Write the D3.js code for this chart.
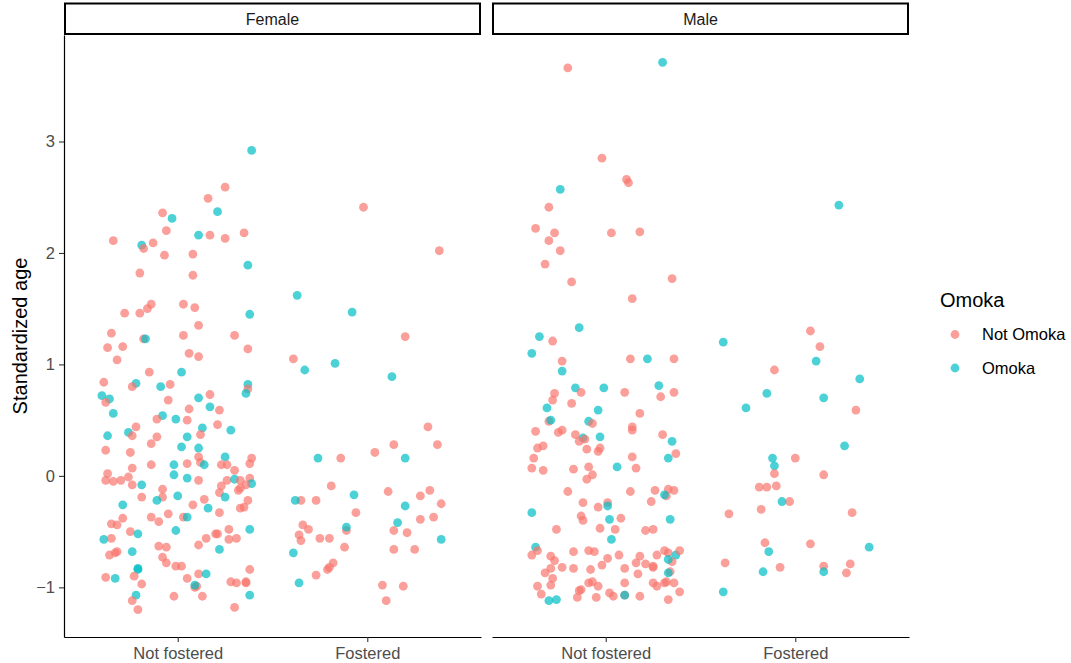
<!DOCTYPE html>
<html>
<head>
<meta charset="utf-8">
<script src="https://cdn.jsdelivr.net/npm/d3@7"></script>
<style>
  html, body { margin: 0; padding: 0; background: #fff; }
  svg { display: block; font-family: "Liberation Sans", Arial, Helvetica, sans-serif; }
</style>
</head>
<body>
<svg id="chart" width="1071" height="663"></svg>
<script>
// Categories, facets and legend entries
const sexes = ["Female", "Male"];
const fosterLevels = ["Not fostered", "Fostered"];
const omokaLevels = ["Not Omoka", "Omoka"];
const colours = ["#F8766D", "#00BFC4"];
const yTicks = [-1, 0, 1, 2, 3];

// Each point: [horizontal jitter (category units), standardized age, omoka (0 = Not Omoka, 1 = Omoka)]
const femaleNotFostered = [
  [0.39,2.92,1],[0.25,2.59,0],[0.16,2.49,0],[0.21,2.37,1],[-0.08,2.36,0],[-0.03,2.31,1],[-0.06,2.20,0],[-0.34,2.11,0],
  [-0.19,2.07,1],[-0.18,2.04,0],[-0.13,2.09,0],[0.11,2.16,1],[0.17,2.16,0],[0.25,2.13,0],[0.35,2.18,0],[-0.07,1.98,0],
  [0.08,1.99,0],[0.37,1.89,1],[-0.20,1.82,0],[0.08,1.80,0],[-0.14,1.54,0],[-0.16,1.50,0],[-0.20,1.46,0],[-0.28,1.46,0],
  [0.03,1.54,0],[0.09,1.51,0],[0.38,1.45,1],[0.11,1.35,0],[-0.35,1.28,0],[0.03,1.26,0],[0.30,1.26,0],[-0.18,1.23,0],
  [-0.17,1.23,1],[-0.37,1.15,0],[-0.29,1.16,0],[0.37,1.14,0],[-0.32,1.04,0],[0.06,1.10,0],[0.11,1.07,0],[-0.15,0.93,0],
  [0.02,0.93,1],[-0.39,0.84,0],[-0.22,0.83,1],[-0.24,0.80,0],[-0.09,0.80,1],[-0.04,0.82,0],[0.37,0.82,1],[0.37,0.78,0],
  [0.36,0.74,1],[-0.40,0.72,1],[-0.36,0.69,1],[-0.38,0.66,0],[-0.05,0.68,0],[0.11,0.70,1],[0.17,0.73,0],[0.06,0.60,0],
  [0.17,0.62,1],[0.22,0.59,0],[-0.34,0.56,1],[-0.08,0.54,1],[-0.11,0.51,0],[-0.01,0.51,1],[0.05,0.50,0],[0.21,0.46,0],
  [0.13,0.43,1],[0.28,0.41,1],[-0.22,0.44,0],[-0.26,0.39,1],[-0.24,0.36,0],[-0.37,0.36,1],[0.12,0.37,0],[-0.11,0.35,0],
  [0.05,0.35,1],[-0.14,0.29,0],[0.02,0.26,1],[0.11,0.25,1],[-0.38,0.23,0],[-0.25,0.21,0],[0.25,0.17,1],[0.11,0.17,0],
  [0.39,0.16,0],[0.38,0.11,0],[0.12,0.12,0],[0.14,0.10,1],[0.05,0.11,0],[0.23,0.10,0],[0.26,0.10,0],[-0.02,0.10,1],
  [-0.14,0.10,0],[-0.24,0.07,0],[0.30,0.05,0],[-0.37,0.02,0],[-0.26,-0.01,0],[-0.02,0.01,1],[0.05,-0.02,1],[0.11,-0.04,0],
  [0.26,-0.04,0],[0.30,-0.03,1],[0.33,-0.04,0],[0.38,-0.02,0],[0.39,-0.07,1],[0.36,-0.08,0],[-0.38,-0.04,0],[-0.34,-0.05,0],
  [-0.30,-0.04,0],[-0.24,-0.08,0],[-0.19,-0.08,1],[0.23,-0.09,0],[-0.08,-0.12,0],[0.22,-0.15,0],[0.32,-0.13,0],[0.33,-0.11,0],
  [0.25,-0.19,1],[-0.19,-0.19,0],[-0.08,-0.19,0],[-0.11,-0.22,1],[0.00,-0.18,1],[0.14,-0.21,0],[0.37,-0.22,0],[0.35,-0.28,0],
  [0.33,-0.29,0],[-0.29,-0.26,1],[0.08,-0.26,0],[0.16,-0.29,1],[0.22,-0.33,0],[-0.05,-0.34,0],[-0.14,-0.37,0],[0.03,-0.37,0],
  [0.05,-0.37,1],[-0.10,-0.41,0],[-0.29,-0.38,0],[-0.35,-0.43,0],[-0.32,-0.44,0],[0.38,-0.48,1],[-0.01,-0.49,1],[0.27,-0.48,0],
  [-0.25,-0.50,0],[-0.21,-0.52,1],[0.20,-0.52,0],[0.21,-0.52,0],[0.15,-0.56,0],[0.27,-0.57,0],[0.31,-0.56,0],[-0.39,-0.57,1],
  [-0.35,-0.56,0],[0.11,-0.62,0],[-0.10,-0.63,0],[-0.06,-0.64,0],[0.22,-0.66,1],[-0.24,-0.68,1],[-0.32,-0.68,0],[-0.33,-0.69,0],
  [-0.36,-0.71,0],[-0.08,-0.73,0],[-0.06,-0.78,0],[-0.01,-0.81,0],[0.02,-0.81,0],[-0.21,-0.83,1],[-0.21,-0.84,1],[0.38,-0.84,0],
  [0.11,-0.88,0],[0.15,-0.88,1],[-0.38,-0.91,0],[-0.33,-0.92,1],[-0.23,-0.90,0],[0.05,-0.92,0],[-0.19,-0.97,0],[0.28,-0.95,0],
  [0.31,-0.96,0],[0.36,-0.95,0],[0.36,-0.96,0],[0.09,-1.00,0],[0.10,-0.99,0],[0.09,-0.98,1],[-0.22,-1.07,1],[-0.02,-1.08,0],
  [0.13,-1.08,0],[0.38,-1.07,1],[-0.24,-1.12,0],[-0.21,-1.20,0],[0.30,-1.18,0]
];

const femaleFostered = [
  [-0.02,2.41,0],[0.38,2.02,0],[-0.37,1.62,1],[-0.08,1.47,1],[0.20,1.25,0],[-0.39,1.05,0],[-0.33,0.95,1],[-0.17,1.01,1],
  [0.13,0.89,1],[0.32,0.44,0],[0.14,0.28,0],[0.37,0.28,0],[0.04,0.21,0],[-0.26,0.16,1],[-0.14,0.16,0],[0.20,0.16,1],
  [-0.19,-0.09,0],[0.11,-0.14,0],[0.33,-0.13,0],[0.28,-0.18,0],[-0.07,-0.17,1],[-0.35,-0.22,0],[-0.38,-0.22,1],[-0.27,-0.22,0],
  [0.39,-0.25,0],[0.20,-0.27,1],[-0.06,-0.33,0],[0.28,-0.39,0],[0.35,-0.37,0],[0.16,-0.42,1],[-0.34,-0.44,0],[-0.31,-0.48,0],
  [-0.11,-0.49,0],[-0.11,-0.46,1],[0.14,-0.49,0],[0.21,-0.51,0],[-0.36,-0.53,0],[-0.35,-0.58,0],[-0.25,-0.56,0],[-0.20,-0.56,0],
  [0.39,-0.57,1],[-0.12,-0.64,0],[-0.39,-0.69,1],[0.14,-0.66,0],[0.25,-0.66,0],[-0.18,-0.78,0],[-0.20,-0.82,0],[-0.21,-0.84,0],
  [-0.27,-0.89,0],[-0.36,-0.96,1],[0.08,-0.98,0],[0.19,-0.99,0],[0.10,-1.12,0]
];

const maleNotFostered = [
  [-0.20,3.66,0],[0.30,3.71,1],[-0.02,2.85,0],[0.11,2.66,0],[0.12,2.63,0],[-0.24,2.57,1],[-0.30,2.41,0],[-0.37,2.22,0],
  [-0.27,2.18,0],[-0.30,2.11,0],[0.03,2.18,0],[0.18,2.19,0],[-0.24,2.02,0],[-0.32,1.90,0],[-0.18,1.74,0],[0.35,1.77,0],
  [0.14,1.59,0],[-0.14,1.33,1],[-0.35,1.25,1],[-0.28,1.21,0],[-0.39,1.10,1],[-0.23,1.03,0],[0.13,1.05,0],[0.22,1.05,1],
  [0.36,1.05,0],[-0.23,0.94,1],[-0.16,0.79,1],[-0.13,0.75,0],[-0.01,0.79,1],[0.28,0.81,1],[0.29,0.71,0],[0.36,0.75,0],
  [0.10,0.75,0],[-0.27,0.74,0],[-0.28,0.68,0],[-0.18,0.65,0],[-0.31,0.61,1],[-0.04,0.59,1],[0.18,0.56,0],[-0.30,0.49,0],
  [-0.29,0.50,1],[-0.09,0.49,1],[-0.07,0.47,0],[-0.37,0.40,0],[-0.25,0.39,0],[-0.23,0.41,0],[0.14,0.44,0],[0.14,0.41,0],
  [-0.16,0.37,0],[-0.12,0.34,1],[-0.14,0.31,0],[-0.11,0.33,0],[-0.03,0.35,1],[0.30,0.37,0],[0.35,0.31,1],[-0.36,0.25,0],
  [-0.33,0.27,0],[-0.10,0.24,0],[-0.03,0.25,0],[-0.04,0.22,0],[0.37,0.20,0],[0.33,0.16,1],[0.14,0.17,0],[-0.38,0.16,0],
  [-0.39,0.07,0],[-0.33,0.05,0],[-0.17,0.06,0],[-0.09,0.08,0],[0.06,0.08,1],[0.16,0.07,0],[-0.07,0.01,0],[-0.10,-0.03,0],
  [-0.20,-0.14,0],[0.13,-0.14,0],[0.26,-0.13,0],[0.33,-0.12,0],[0.36,-0.13,0],[0.32,-0.18,0],[0.31,-0.17,1],[0.24,-0.23,0],
  [-0.12,-0.24,0],[-0.04,-0.28,0],[0.01,-0.24,0],[0.01,-0.27,1],[-0.39,-0.33,1],[-0.13,-0.36,0],[-0.12,-0.40,0],[0.02,-0.39,1],
  [0.08,-0.38,0],[0.34,-0.39,1],[-0.26,-0.48,0],[-0.03,-0.47,0],[0.05,-0.48,0],[0.21,-0.49,0],[0.25,-0.48,0],[0.03,-0.57,1],
  [-0.37,-0.64,1],[-0.36,-0.67,0],[-0.39,-0.71,0],[-0.29,-0.72,0],[-0.27,-0.76,0],[-0.17,-0.68,0],[-0.09,-0.67,0],[-0.06,-0.68,0],
  [0.07,-0.71,0],[0.01,-0.74,0],[0.18,-0.72,0],[0.16,-0.78,0],[0.27,-0.71,0],[0.31,-0.67,0],[0.33,-0.69,0],[0.37,-0.71,1],
  [0.39,-0.67,0],[0.35,-0.77,0],[0.33,-0.75,1],[0.21,-0.79,0],[0.25,-0.81,0],[0.25,-0.82,0],[-0.32,-0.87,0],[-0.29,-0.83,0],
  [-0.23,-0.82,0],[-0.17,-0.83,0],[-0.08,-0.84,0],[-0.02,-0.80,0],[0.10,-0.83,0],[0.17,-0.88,0],[0.34,-0.86,0],[0.33,-0.87,1],
  [-0.28,-0.92,0],[-0.36,-0.99,0],[-0.29,-0.98,0],[-0.09,-0.96,0],[-0.07,-0.95,0],[-0.04,-0.99,0],[0.10,-0.96,0],[0.25,-0.96,0],
  [0.27,-0.99,0],[0.31,-0.96,0],[0.32,-0.95,0],[0.36,-0.96,0],[-0.34,-1.06,0],[-0.14,-1.03,0],[-0.13,-1.02,0],[0.02,-1.05,0],
  [0.04,-1.08,0],[0.10,-1.07,0],[0.10,-1.07,1],[0.18,-1.08,0],[0.39,-1.04,0],[-0.15,-1.09,0],[-0.05,-1.09,0],[0.33,-1.11,0],
  [-0.30,-1.12,1],[-0.26,-1.11,1]
];

const maleFostered = [
  [0.23,2.43,1],[0.08,1.30,0],[-0.38,1.20,1],[0.13,1.16,0],[0.11,1.03,1],[-0.11,0.95,0],[0.34,0.87,1],[-0.15,0.74,1],
  [0.15,0.70,1],[-0.26,0.61,1],[0.32,0.59,0],[0.26,0.27,1],[-0.12,0.16,1],[0.00,0.16,0],[-0.11,0.09,1],[-0.11,0.02,0],
  [0.15,0.01,0],[-0.19,-0.10,0],[-0.15,-0.10,0],[-0.10,-0.09,0],[-0.03,-0.23,0],[-0.07,-0.23,1],[-0.35,-0.34,0],[-0.18,-0.30,0],
  [0.30,-0.33,0],[-0.16,-0.60,0],[-0.14,-0.68,1],[0.08,-0.61,0],[0.39,-0.64,1],[-0.37,-0.78,0],[-0.17,-0.86,1],[-0.08,-0.82,0],
  [0.15,-0.81,0],[0.15,-0.86,1],[0.29,-0.79,0],[0.27,-0.87,0],[-0.38,-1.04,1]
];

// Facet -> category -> points
const panelData = {
  Female: [femaleNotFostered, femaleFostered],
  Male: [maleNotFostered, maleFostered]
};

// ---- Layout ----
const panelTop = 35, panelBottom = 637;
const panelWidth = 417;
const panelLefts = [64, 492];
const stripTop = 3.5;

const svg = d3.select("#chart");

// Shared y scale with 5% padding on the data range
const allAges = [].concat(femaleNotFostered, femaleFostered, maleNotFostered, maleFostered).map(d => d[1]);
const [yMin, yMax] = d3.extent(allAges);
const pad = (yMax - yMin) * 0.05;
const y = d3.scaleLinear().domain([yMin - pad, yMax + pad]).range([panelBottom, panelTop]);

const colour = d3.scaleOrdinal().domain([0, 1]).range(colours);

sexes.forEach((sex, i) => {
  const x0 = panelLefts[i];
  // discrete categories sit at 1 and 2 with 0.6 units of padding each side
  const x = d3.scaleLinear().domain([0.4, 2.6]).range([x0, x0 + panelWidth]);
  const g = svg.append("g");

  // strip
  g.append("rect")
    .attr("x", x0 + 1).attr("y", stripTop)
    .attr("width", panelWidth - 2).attr("height", panelTop - stripTop - 1)
    .attr("fill", "#fff").attr("stroke", "#000").attr("stroke-width", 2);
  g.append("text")
    .attr("x", x0 + panelWidth / 2).attr("y", (stripTop + panelTop) / 2)
    .attr("dy", "0.35em").attr("text-anchor", "middle")
    .attr("font-size", 16).attr("fill", "#1a1a1a")
    .text(sex);

  // points
  panelData[sex].forEach((pts, ci) => {
    g.append("g").selectAll("circle")
      .data(pts)
      .join("circle")
      .attr("cx", d => x(ci + 1 + d[0]))
      .attr("cy", d => y(d[1]))
      .attr("r", 4.4)
      .attr("fill", d => colour(d[2]))
      .attr("fill-opacity", 0.7);
  });

  // x axis
  const xAxis = d3.axisBottom(x)
    .tickValues([1, 2])
    .tickFormat(v => fosterLevels[v - 1])
    .tickSize(5).tickSizeOuter(0).tickPadding(5);
  const gx = g.append("g").attr("transform", `translate(0,${panelBottom})`).call(xAxis);
  gx.select(".domain").attr("stroke", "#000").attr("stroke-width", 1.2);
  gx.selectAll(".tick line").attr("stroke", "#333").attr("stroke-width", 1.1);
  gx.selectAll(".tick text").attr("font-size", 16.5).attr("fill", "#4d4d4d")
    .attr("font-family", "Liberation Sans, Arial, sans-serif");

  // y axis only on the first facet
  if (i === 0) {
    const yAxis = d3.axisLeft(y).tickValues(yTicks).tickFormat(d3.format("d"))
      .tickSize(5).tickSizeOuter(0).tickPadding(4);
    const gy = g.append("g").attr("transform", `translate(${x0},0)`).call(yAxis);
    gy.select(".domain").attr("stroke", "#000").attr("stroke-width", 1.2);
    gy.selectAll(".tick line").attr("stroke", "#333").attr("stroke-width", 1.1);
    gy.selectAll(".tick text").attr("font-size", 16.5).attr("fill", "#4d4d4d")
      .attr("font-family", "Liberation Sans, Arial, sans-serif");
  }
});

// y axis title
svg.append("text")
  .attr("transform", `translate(27,${(panelTop + panelBottom) / 2}) rotate(-90)`)
  .attr("text-anchor", "middle")
  .attr("font-size", 20).attr("fill", "#000")
  .text("Standardized age");

// legend
const legend = svg.append("g").attr("transform", "translate(940,0)");
legend.append("text")
  .attr("x", 0).attr("y", 307)
  .attr("font-size", 20).attr("fill", "#000")
  .text("Omoka");
omokaLevels.forEach((lab, k) => {
  const cy = 334.5 + k * 33.5;
  legend.append("circle")
    .attr("cx", 15).attr("cy", cy).attr("r", 4.4)
    .attr("fill", colour(k)).attr("fill-opacity", 0.7);
  legend.append("text")
    .attr("x", 42).attr("y", cy).attr("dy", "0.35em")
    .attr("font-size", 16.5).attr("fill", "#000")
    .text(lab);
});
</script>
</body>
</html>
